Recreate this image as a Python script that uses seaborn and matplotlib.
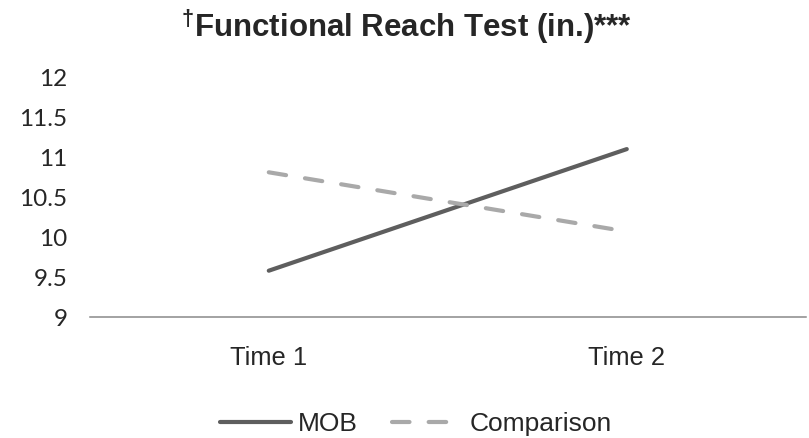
import numpy as np
import pandas as pd
import matplotlib
matplotlib.use("Agg")
import matplotlib.pyplot as plt
import seaborn as sns

# data
times = ["Time 1", "Time 2"]
mob = [9.58, 11.10]
comparison = [10.81, 10.07]
groups = ["MOB", "Comparison"]

df = pd.DataFrame({
    "time": times * 2,
    "value": mob + comparison,
    "group": [groups[0]] * 2 + [groups[1]] * 2,
})

sns.set_theme(style="white")
plt.rcParams["font.family"] = ["Liberation Sans", "DejaVu Sans"]
# superscript dagger in the title through mathtext
plt.rcParams["mathtext.fontset"] = "custom"
plt.rcParams["mathtext.rm"] = "Liberation Sans:bold"
plt.rcParams["mathtext.it"] = "Liberation Sans:bold"
plt.rcParams["mathtext.bf"] = "Liberation Sans:bold"

fig = plt.figure(figsize=(8.09, 4.38), dpi=100)
ax = fig.add_axes([0.111, 0.276, 0.885, 0.548])

sns.lineplot(data=df, x="time", y="value", hue="group", style="group",
             palette={"MOB": "#5e5e5e", "Comparison": "#a9a9a9"},
             dashes={"MOB": "", "Comparison": (4.2, 4.6)},
             linewidth=3, sort=False, ax=ax, legend=True)
for ln in ax.lines:
    ln.set_solid_capstyle("round")
    ln.set_dash_capstyle("round")

ax.set_xlim(-0.5, 1.5)
ax.set_ylim(9, 12)
ax.set_yticks(np.arange(9, 12.01, 0.5))
ax.set_yticklabels(["9", "9.5", "10", "10.5", "11", "11.5", "12"],
                   fontfamily="Lato", fontsize=17.5)
ax.set_xticks([0, 1])
ax.set_xticklabels(times, fontsize=18.4)
ax.tick_params(axis="x", length=0, pad=21)
ax.tick_params(axis="y", length=0, pad=16)
ax.set_xlabel("")
ax.set_ylabel("")
for s in ["top", "right", "left"]:
    ax.spines[s].set_visible(False)
ax.spines["bottom"].set_color("#898989")
ax.spines["bottom"].set_linewidth(1.1)

fig.text(0.503, 0.94, r"$^{\dagger}$" + "Functional Reach Test (in.)***",
         ha="center", va="center", fontsize=22.5, fontweight="bold")

h, l = ax.get_legend_handles_labels()
ax.legend_.remove()
for hh in h:
    hh.set_linewidth(3)
    hh.set_dash_capstyle("round")
    hh.set_solid_capstyle("round")
fig.legend(h, l, loc="center", bbox_to_anchor=(0.514, 0.031), ncol=2, frameon=False,
           fontsize=19, handlelength=2.7, handletextpad=0.25, columnspacing=1.3)

fig.savefig("out.png", dpi=100)
